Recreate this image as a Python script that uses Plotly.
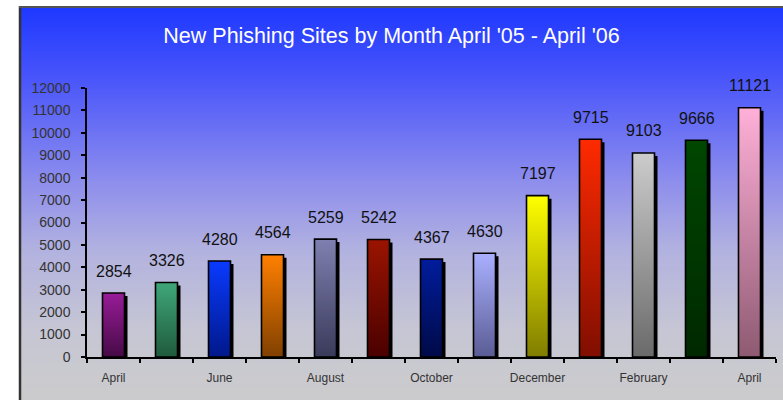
import base64
import struct
import zlib

import plotly.graph_objects as go

# ---------------- data ----------------
months = ["April", "May", "June", "July", "August", "September", "October",
          "November", "December", "January", "February", "March", "April"]
values = [2854, 3326, 4280, 4564, 5259, 5242, 4367, 4630, 7197, 9715, 9103, 9666, 11121]
top_colors = ["#981c98", "#3fa77a", "#0a3aff", "#ff8000", "#7f80b0", "#9a1400", "#001c9c",
              "#aab0ff", "#ffff00", "#ff2a00", "#cccccc", "#004600", "#ffb0d8"]
bottom_colors = ["#460a46", "#1f5a3c", "#00188a", "#804000", "#3a3a5a", "#4a0000", "#000a48",
                 "#5a5c94", "#807d00", "#800e00", "#6a6a6a", "#002800", "#8e5a72"]
labelled_idx = [0, 2, 4, 6, 8, 10, 12]
y_ticks = list(range(0, 12001, 1000))
title = "New Phishing Sites by Month April '05 - April '06"

# ---------------- layout geometry ----------------
W, H = 783, 400
ML, MR, MT, MB = 87, 7, 88, 43
PW, PH = W - ML - MR, H - MT - MB
BAR_W = 0.415
SHADOW_DX = 3 / PW * 13
SHADOW_DY = 3 / PH * 12000


def px2x(px):
    return (px - ML) / PW


def py2y(py):
    return (H - MB - py) / PH


# ---------------- background gradient image ----------------
stops = [(7, (30, 56, 255)), (80, (74, 86, 250)), (180, (141, 141, 237)),
         (250, (178, 178, 224)), (330, (198, 198, 212)), (407, (204, 204, 204))]


def color_at(py):
    for (y0, c0), (y1, c1) in zip(stops[:-1], stops[1:]):
        if y0 <= py <= y1:
            t = (py - y0) / (y1 - y0)
            return tuple(int(round(a + (b - a) * t)) for a, b in zip(c0, c1))
    return stops[-1][1]


def make_png(rows, width=4):
    raw = b"".join(b"\x00" + bytes(rgb) * width for rgb in rows)

    def chunk(t, d):
        return struct.pack(">I", len(d)) + t + d + struct.pack(">I", zlib.crc32(t + d) & 0xFFFFFFFF)

    ihdr = struct.pack(">IIBBBBB", width, len(rows), 8, 2, 0, 0, 0)
    return (b"\x89PNG\r\n\x1a\n" + chunk(b"IHDR", ihdr)
            + chunk(b"IDAT", zlib.compress(raw)) + chunk(b"IEND", b""))


rows = [color_at(py) for py in range(7, 407)]
bg_src = "data:image/png;base64," + base64.b64encode(make_png(rows)).decode()

# ---------------- figure ----------------
fig = go.Figure()

centers = [i + 0.5 for i in range(len(values))]

# shadows
for c, v in zip(centers, values):
    x0, x1 = c - BAR_W / 2 + SHADOW_DX, c + BAR_W / 2 + SHADOW_DX
    fig.add_trace(go.Scatter(
        x=[x0, x1, x1, x0, x0], y=[0, 0, v - SHADOW_DY, v - SHADOW_DY, 0],
        mode="lines", fill="toself", fillcolor="black",
        line=dict(color="black", width=0), hoverinfo="skip", showlegend=False))

# gradient bars
for c, v, ct, cb, m in zip(centers, values, top_colors, bottom_colors, months):
    x0, x1 = c - BAR_W / 2, c + BAR_W / 2
    fig.add_trace(go.Scatter(
        x=[x0, x1, x1, x0, x0], y=[0, 0, v, v, 0],
        mode="lines", fill="toself",
        fillgradient=dict(type="vertical", colorscale=[[0, cb], [1, ct]]),
        line=dict(color="black", width=1.6), name=m, hoverinfo="name+y",
        showlegend=False))

# value labels
for c, v in zip(centers, values):
    fig.add_annotation(x=c, y=v, text=str(v), showarrow=False, yanchor="middle",
                       yshift=22, font=dict(size=16, color="#111111",
                                            family="Liberation Sans, Arial, sans-serif"))

fig.update_layout(
    width=W, height=H,
    margin=dict(l=ML, r=MR, t=MT, b=MB),
    paper_bgcolor="white",
    plot_bgcolor="rgba(0,0,0,0)",
    font=dict(family="Liberation Sans, Arial, sans-serif", color="#333333"),
    title=dict(text=title, x=0.5, xref="container", xanchor="center",
               y=1 - 35 / H, yref="container", yanchor="middle",
               font=dict(size=21.5, color="white")),
    images=[dict(source=bg_src, xref="paper", yref="paper",
                 x=px2x(20), y=py2y(7), sizex=(790 - 20) / PW, sizey=400 / PH,
                 xanchor="left", yanchor="top", sizing="stretch", layer="below")],
    shapes=[
        dict(type="line", xref="paper", yref="paper", x0=px2x(20), x1=px2x(20),
             y0=py2y(6), y1=py2y(410), line=dict(color="#333333", width=2.5)),
        dict(type="line", xref="paper", yref="paper", x0=px2x(19), x1=px2x(800),
             y0=py2y(7), y1=py2y(7), line=dict(color="#555555", width=2)),
    ],
)

fig.update_xaxes(
    range=[0, 13], showgrid=False, zeroline=False,
    showline=True, linecolor="black", linewidth=1.5,
    tickmode="array", tickvals=[centers[i] for i in labelled_idx],
    ticktext=[months[i] for i in labelled_idx],
    ticks="outside", ticklen=4, tickcolor="rgba(0,0,0,0)",
    ticklabelstandoff=5,
    tickfont=dict(size=12, color="#333333"),
    minor=dict(tickmode="array", tickvals=list(range(14)), ticks="outside",
               ticklen=4, tickwidth=1.5, tickcolor="black"),
    fixedrange=True,
)
fig.update_yaxes(
    range=[0, 12000], showgrid=False, zeroline=False,
    showline=True, linecolor="black", linewidth=1.5,
    tickmode="array", tickvals=y_ticks, ticktext=[str(t) for t in y_ticks],
    ticks="outside", ticklen=4, tickwidth=1.5, tickcolor="black",
    ticklabelstandoff=8,
    tickfont=dict(size=14, color="#333333"),
    fixedrange=True,
)

fig.write_html("out.html", config={"displayModeBar": False},
               post_script="document.body.style.margin='0';document.body.style.overflow='hidden';")
